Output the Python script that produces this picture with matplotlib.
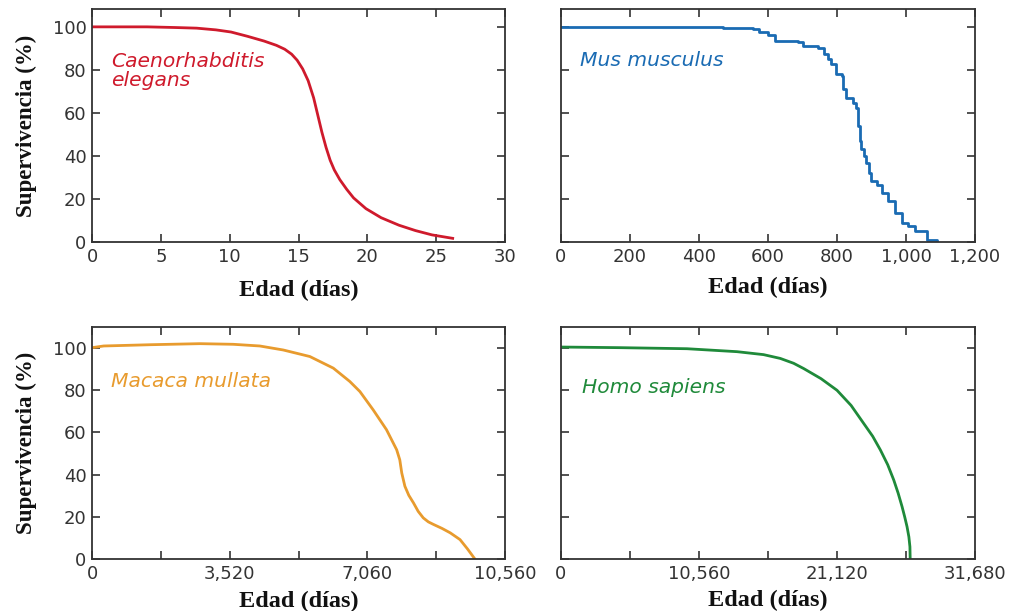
import matplotlib
matplotlib.use("Agg")
import matplotlib.pyplot as plt

# ---- data ----
celegans_x = [0, 2, 4, 6, 7.6, 9, 10.1, 11.3, 12.5, 13.4, 14.0, 14.5, 14.9, 15.3, 15.7, 16.1, 16.4, 16.7, 17.0, 17.3, 17.6, 18.0, 18.5, 19.0, 19.9, 21.0, 22.3, 23.5, 24.7, 26.2]
celegans_y = [100, 100, 100, 99.7, 99.4, 98.6, 97.6, 95.6, 93.4, 91.4, 89.6, 87.3, 84.5, 80.5, 75, 67, 59, 51, 44, 38, 33.5, 29, 24.5, 20.5, 15.5, 11.3, 7.8, 5.3, 3.3, 1.7]

mus_x = [0, 470, 557, 575, 600, 620, 687, 700, 744, 763, 775, 783, 797, 814, 817, 826, 846, 856, 861, 866, 870, 878, 885, 892, 898, 915, 930, 949, 969, 988, 1007, 1026, 1060, 1091]
mus_y = [100, 99.6, 99, 97.5, 96.2, 93.6, 93.1, 91.2, 90.4, 87.3, 85, 82.6, 78, 77.2, 71, 67, 64.6, 62.3, 53.8, 47, 43, 40, 36.8, 32, 28.3, 26.7, 22.8, 18.9, 13.5, 8.8, 7.3, 5, 1.1, 0]

macaca_x = [0, 300, 1490, 2760, 3610, 4290, 4890, 5570, 6170, 6590, 6850, 7190, 7530, 7790, 7870, 7920, 8000, 8100, 8220, 8340, 8470, 8600, 8730, 8950, 9160, 9410, 9600, 9790]
macaca_y = [100.2, 101, 101.6, 102.1, 101.8, 101, 99.1, 96, 90.5, 84.2, 79.4, 70.7, 61.3, 51.8, 47, 40.8, 34.5, 30.2, 26.6, 22.6, 19.5, 17.6, 16.4, 14.5, 12.4, 9.2, 4.8, 0]

homo_x = [0, 4540, 9640, 13470, 15500, 16780, 17800, 18570, 19900, 21120, 22200, 23160, 23850, 24440, 25000, 25460, 25800, 26100, 26300, 26480, 26620, 26700, 26720]
homo_y = [100.5, 100.2, 99.7, 98.3, 96.9, 95.1, 92.8, 90.3, 85.5, 80, 72.8, 64.3, 58.2, 51.7, 44.7, 37.5, 31.2, 24.8, 20, 15.3, 10.5, 5.8, 0]

yticks = [0, 20, 40, 60, 80, 100]

top_left_xticks = [0, 5, 10, 15, 20, 25, 30]
top_right_xticks = [0, 200, 400, 600, 800, 1000, 1200]
top_right_labels = ["0", "200", "400", "600", "800", "1,000", "1,200"]
bot_left_xticks = [0, 1760, 3520, 5280, 7040, 8800, 10560]
bot_left_labels = ["0", "", "3,520", "", "7,060", "", "10,560"]
bot_right_xticks = [0, 5280, 10560, 15840, 21120, 26400, 31680]
bot_right_labels = ["0", "", "10,560", "", "21,120", "", "31,680"]

species = ["Caenorhabditis\nelegans", "Mus musculus", "Macaca mullata", "Homo sapiens"]
colors = ["#cf1a2c", "#1a6bb3", "#e89b2e", "#1f8a3a"]

xlabel = "Edad (días)"
ylabel = "Supervivencia (%)"

fig = plt.figure(figsize=(10.13, 6.11), dpi=100)
W, H = 1013, 611

def make_ax(l, r, t, b):
    return fig.add_axes([l / W, 1 - b / H, (r - l) / W, (b - t) / H])

ax1 = make_ax(92, 505, 9, 242)
ax2 = make_ax(561, 975, 9, 242)
ax3 = make_ax(92, 505, 327, 559)
ax4 = make_ax(561, 975, 327, 559)

tick_font = dict(family="DejaVu Sans", size=13, color="#333333")
xlabel_font = dict(family="Liberation Serif", weight="bold", size=17.5, color="#111111")
ylabel_font = dict(family="Liberation Serif", weight="bold", size=16.5, color="#111111")
species_font = dict(family="DejaVu Sans", style="italic", size=14.6)

def style(ax, xlim, ylim, xt, xl, show_y, xpad):
    ax.set_xlim(*xlim)
    ax.set_ylim(*ylim)
    ax.set_xticks(xt)
    ax.set_xticklabels(xl, **tick_font)
    ax.set_yticks(yticks)
    if show_y:
        ax.set_yticklabels([str(v) for v in yticks], **tick_font)
        ax.set_ylabel(ylabel, labelpad=11, **ylabel_font)
    else:
        ax.set_yticklabels([])
    ax.tick_params(direction="in", length=6, width=1.2, color="#333333",
                   top=True, right=True, pad=4)
    for s in ax.spines.values():
        s.set_linewidth(1.3)
        s.set_color("#333333")
    ax.set_xlabel(xlabel, labelpad=xpad, **xlabel_font)

ax1.plot(celegans_x, celegans_y, color=colors[0], lw=2)
style(ax1, (0, 30), (0, 108.3), top_left_xticks, [str(v) for v in top_left_xticks], True, 10)
ax1.text(0.047, 0.735, species[0], transform=ax1.transAxes, color=colors[0],
         va="center", ha="left", linespacing=1.0, **species_font)

ax2.step(mus_x, mus_y, where="post", color=colors[1], lw=2)
style(ax2, (0, 1200), (0, 108.3), top_right_xticks, top_right_labels, False, 8)
ax2.text(0.045, 0.78, species[1], transform=ax2.transAxes, color=colors[1],
         va="center", ha="left", **species_font)

ax3.plot(macaca_x, macaca_y, color=colors[2], lw=2)
style(ax3, (0, 10560), (0, 110), bot_left_xticks, bot_left_labels, True, 6)
ax3.text(0.045, 0.765, species[2], transform=ax3.transAxes, color=colors[2],
         va="center", ha="left", **species_font)

ax4.plot(homo_x, homo_y, color=colors[3], lw=2)
style(ax4, (0, 31680), (0, 110), bot_right_xticks, bot_right_labels, False, 5)
ax4.text(0.05, 0.74, species[3], transform=ax4.transAxes, color=colors[3],
         va="center", ha="left", **species_font)

fig.savefig("out.png", dpi=100)
